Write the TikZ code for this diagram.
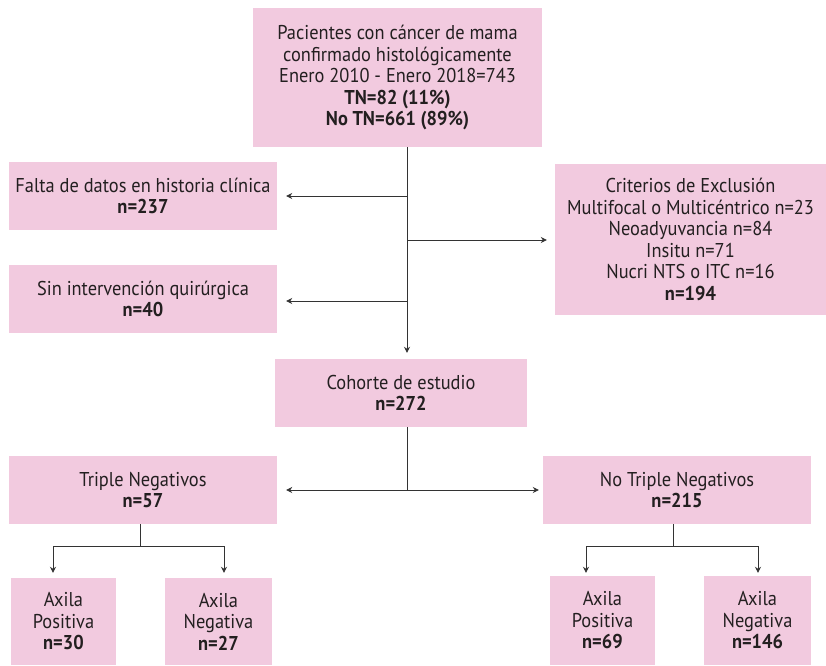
\documentclass[tikz,border=0pt]{standalone}
\usepackage{fontspec}
\setmainfont{PT Sans}[FakeStretch=0.92]
\usetikzlibrary{arrows.meta,calc}
\definecolor{boxpink}{HTML}{F2CADF}
\definecolor{linegray}{HTML}{333333}
\definecolor{txt}{HTML}{231F20}
\tikzset{
  pinkbox/.style={fill=boxpink, draw=none, inner sep=0pt, align=center,
    font=\fontsize{20}{21.5}\selectfont, text=txt},
  conn/.style={draw=linegray, line width=0.9pt},
  arr/.style={conn, -{Stealth[length=6pt,width=6pt]}}
}
\newcommand{\boxat}[6]{% name, x1, y1, x2, y2, text
  \node[pinkbox, minimum width={#4-#2}, minimum height={#5-#3}] (#1) at ({(#2+#4)/2},{(#3+#5)/2}) {#6};}
\begin{document}
\begin{tikzpicture}[x=1pt,y=-1pt]
\useasboundingbox (0,0) rectangle (826,665);
\boxat{top}{253}{8}{542}{147}{Pacientes con cáncer de mama\\confirmado histológicamente\\Enero 2010 - Enero 2018=743\\\textbf{TN=82 (11\%)}\\\textbf{No TN=661 (89\%)}}
\boxat{falta}{9}{162}{277}{230}{Falta de datos en historia clínica\\\textbf{n=237}}
\boxat{sin}{9}{265}{277}{333}{Sin intervención quirúrgica\\\textbf{n=40}}
\boxat{crit}{555}{164}{826}{315}{\fontsize{20}{20}\selectfont Criterios de Exclusión\\Multifocal o Multicéntrico n=23\\Neoadyuvancia n=84\\Insitu n=71\\Nucri NTS o ITC n=16\\\textbf{n=194}}
\boxat{coh}{275}{359}{527}{427}{Cohorte de estudio\\\textbf{n=272}}
\boxat{tn}{9}{456}{277}{524}{Triple Negativos\\\textbf{n=57}}
\boxat{ntn}{543}{456}{811}{524}{No Triple Negativos\\\textbf{n=215}}
\boxat{a1}{11}{578}{116}{665}{Axila\\Positiva\\\textbf{n=30}}
\boxat{a2}{165}{578}{272}{665}{Axila\\Negativa\\\textbf{n=27}}
\boxat{a3}{550}{576}{655}{665}{Axila\\Positiva\\\textbf{n=69}}
\boxat{a4}{704}{576}{811}{665}{Axila\\Negativa\\\textbf{n=146}}
% trunk
\coordinate (t0) at (407,147);
\coordinate (bf) at (407,196);
\coordinate (bc) at (407,240);
\coordinate (bs) at (407,301);
\draw[arr] (t0) -- ($(coh.north -| t0)+(0,-6)$);
\draw[arr] (bf) -- ($(falta.east)+(9,0)$);
\draw[arr] (bs) -- ($(sin.east |- bs)+(9,0)$);
\draw[arr] (bc) -- ($(crit.west |- bc)+(-8,0)$);
% cohort split
\coordinate (c0) at (407,427);
\coordinate (c1) at (407,490);
\draw[conn] (c0) -- (c1);
\draw[arr] (c1) -- ($(tn.east)+(9,0)$);
\draw[arr] (c1) -- ($(ntn.west)+(-4,0)$);
% TN split
\coordinate (l0) at (140,524);
\coordinate (l1) at (140,546);
\coordinate (l2) at (53,546);
\coordinate (l3) at (224,546);
\draw[conn] (l0) -- (l1);
\draw[conn] (l2) -- (l3);
\draw[arr] (l2) -- ($(l2 |- a1.north)+(0,-5)$);
\draw[arr] (l3) -- ($(l3 |- a2.north)+(0,-5)$);
% NTN split
\coordinate (r0) at (673,524);
\coordinate (r1) at (673,546);
\coordinate (r2) at (586,546);
\coordinate (r3) at (758,546);
\draw[conn] (r0) -- (r1);
\draw[conn] (r2) -- (r3);
\draw[arr] (r2) -- ($(r2 |- a3.north)+(0,-3)$);
\draw[arr] (r3) -- ($(r3 |- a4.north)+(0,-3)$);
\end{tikzpicture}
\end{document}
